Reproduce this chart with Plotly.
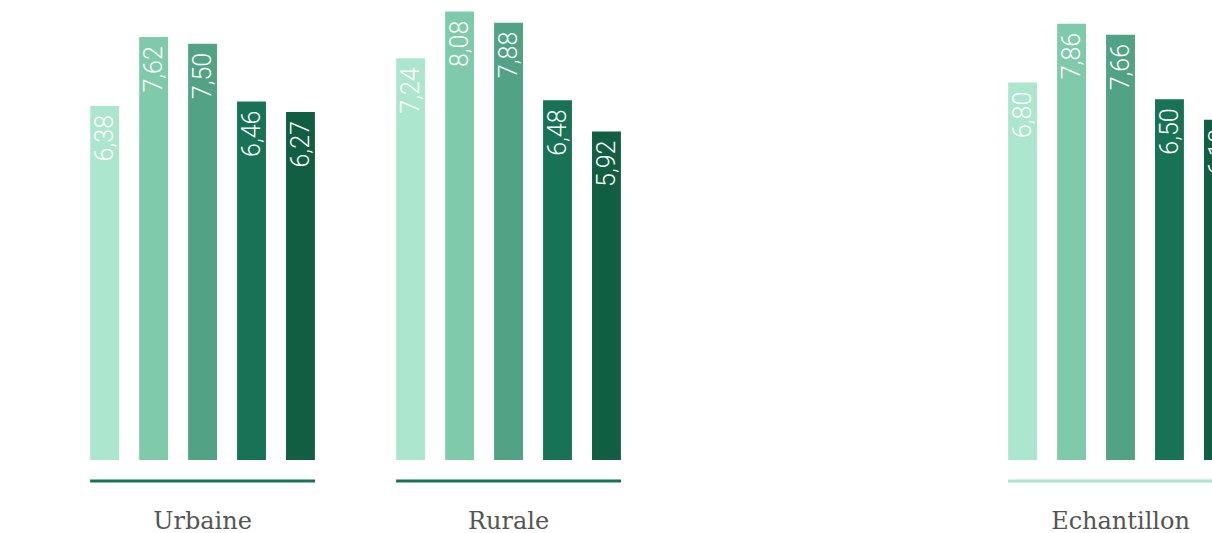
import plotly.graph_objects as go

categories = ["Urbaine", "Rurale", " ", "Echantillon"]
series_names = ["Série 1", "Série 2", "Série 3", "Série 4", "Série 5"]
serie_1 = [6.38, 7.24, None, 6.80]
serie_2 = [7.62, 8.08, None, 7.86]
serie_3 = [7.50, 7.88, None, 7.66]
serie_4 = [6.46, 6.48, None, 6.50]
serie_5 = [6.27, 5.92, None, 6.13]
colors = ["#ade6cf", "#80caac", "#52a285", "#187255", "#115e43"]
underline_colors = ["#187255", "#187255", None, "#ade6cf"]

values = [serie_1, serie_2, serie_3, serie_4, serie_5]

fig = go.Figure()
for name, vals, col in zip(series_names, values, colors):
    fig.add_trace(go.Bar(
        x=categories, y=vals, name=name,
        marker=dict(color=col, line=dict(width=0)),
        texttemplate="%{y:.2f}\u00a0",
        textposition="inside", insidetextanchor="end",
        textangle=-90, constraintext="none",
        textfont=dict(family="Roboto", size=25, color="#ffffff", weight=300),
        hoverinfo="skip",
    ))

half = 0.3676
for i, col in enumerate(underline_colors):
    if col is None:
        continue
    fig.add_shape(type="line", xref="x", yref="paper",
                  x0=i - half, x1=i + half, y0=-0.0457, y1=-0.0457,
                  line=dict(color=col, width=3))

fig.update_layout(
    width=1212, height=533,
    margin=dict(l=0, r=0, t=0, b=73, autoexpand=False),
    paper_bgcolor="white", plot_bgcolor="white",
    barmode="group", bargap=0.2, bargroupgap=0.41,
    separators=", ",
    showlegend=False,
    xaxis=dict(type="category", categoryorder="array", categoryarray=categories,
               range=[-0.662, 3.299], showgrid=False, zeroline=False, showline=False,
               automargin=False,
               ticks="outside", ticklen=39, tickcolor="rgba(0,0,0,0)",
               tickfont=dict(family="DejaVu Serif", size=24, color="#555555")),
    yaxis=dict(range=[0, 8.288], visible=False, automargin=False),
)

fig.write_html("out.html", config={"displayModeBar": False},
               post_script="document.body.style.margin='0px';document.body.style.overflow='hidden';")
